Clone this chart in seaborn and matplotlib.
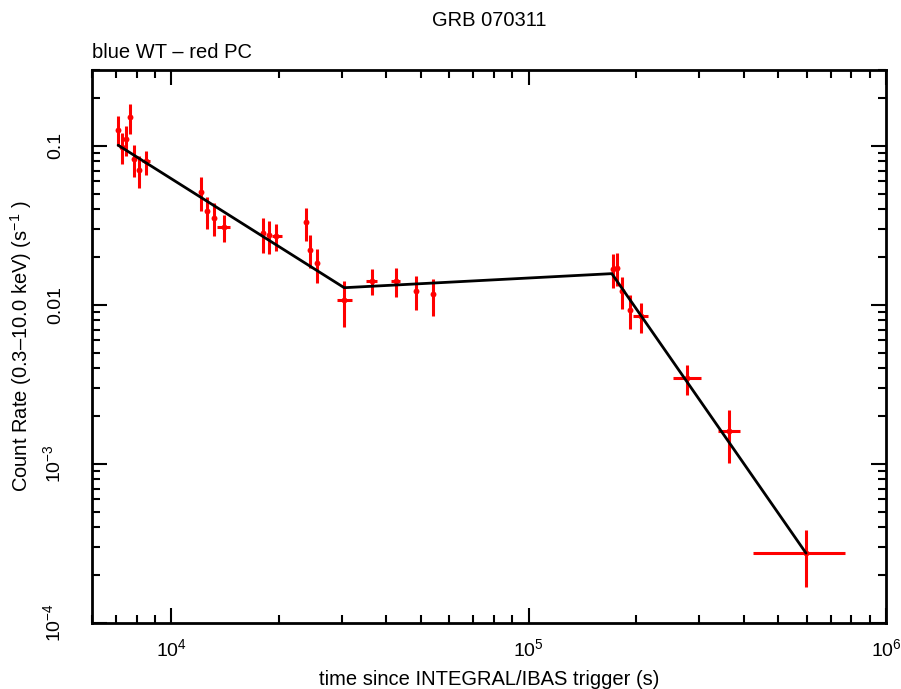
import matplotlib
matplotlib.use("Agg")
import matplotlib.pyplot as plt
import matplotlib.ticker as mticker
import numpy as np
import seaborn as sns

# ---- data ----
time_s = [7100, 7290, 7470, 7650, 7840, 8120, 8510,
          12130, 12585, 13165, 14007, 18000, 18720, 19670, 23750, 24480, 25560,
          30470, 36420, 42420, 48450, 54160,
          171980, 177110, 182970, 192250, 206380, 277000, 364500, 597300]
time_lo = [7000, 7190, 7370, 7550, 7740, 8020, 8280,
           11980, 12430, 13000, 13420, 17800, 18520, 19130, 23500, 24230, 25300,
           29070, 35120, 41260, 47950, 53600,
           170500, 175600, 181200, 190300, 196400, 253200, 339600, 425500]
time_hi = [7200, 7390, 7570, 7750, 7940, 8220, 8740,
           12280, 12740, 13330, 14560, 18200, 18920, 20400, 24000, 24730, 25820,
           32030, 37760, 43710, 48950, 54720,
           173400, 178600, 184700, 194200, 216300, 303200, 390500, 767900]
rate = [0.126, 0.098, 0.110, 0.151, 0.083, 0.071, 0.080,
        0.0513, 0.0390, 0.0354, 0.0311, 0.0282, 0.0275, 0.0271, 0.0332, 0.0221, 0.0183,
        0.01072, 0.0141, 0.0141, 0.01222, 0.01164,
        0.01673, 0.01698, 0.01222, 0.00928, 0.0085, 0.00348, 0.001604, 0.000275]
rate_lo = [0.100, 0.077, 0.087, 0.119, 0.064, 0.054, 0.066,
           0.0390, 0.0299, 0.0271, 0.0249, 0.0213, 0.0210, 0.0218, 0.0252, 0.0170, 0.0138,
           0.00729, 0.01153, 0.01120, 0.00924, 0.0085,
           0.01283, 0.01313, 0.00937, 0.00701, 0.00668, 0.00273, 0.001015, 0.0001695]
rate_hi = [0.155, 0.121, 0.134, 0.183, 0.101, 0.087, 0.093,
           0.0633, 0.0480, 0.0436, 0.0366, 0.0354, 0.0337, 0.0321, 0.0409, 0.0275, 0.0224,
           0.0141, 0.0169, 0.01715, 0.0152, 0.01462,
           0.0208, 0.0211, 0.01505, 0.01147, 0.01022, 0.00422, 0.002197, 0.000386]

model_t = [7100, 30470, 170900, 597300]
model_r = [0.101, 0.01283, 0.01573, 0.000275]

y_ticks = [1e-4, 1e-3, 1e-2, 1e-1]
y_ticklabels = ["10$^{-4}$", "10$^{-3}$", "0.01", "0.1"]
x_ticks = [1e4, 1e5, 1e6]
x_ticklabels = ["10$^{4}$", "10$^{5}$", "10$^{6}$"]

# ---- style ----
sns.set_style("ticks")
plt.rcParams["font.family"] = ["Liberation Sans", "DejaVu Sans"]
plt.rcParams["mathtext.fontset"] = "custom"
plt.rcParams["mathtext.rm"] = "Liberation Sans"
plt.rcParams["mathtext.it"] = "Liberation Sans:italic"
plt.rcParams["mathtext.bf"] = "Liberation Sans:bold"
plt.rcParams["mathtext.default"] = "regular"
plt.rcParams["text.color"] = "black"
plt.rcParams["axes.labelcolor"] = "black"
plt.rcParams["xtick.color"] = "black"
plt.rcParams["ytick.color"] = "black"

FS = 14.5

fig = plt.figure(figsize=(9.01, 6.89), dpi=100)
ax = fig.add_axes([92/901, 1 - 623/689, (886-92)/901, (623-70)/689])

t = np.array(time_s); r = np.array(rate)
xerr = [t - np.array(time_lo), np.array(time_hi) - t]
yerr = [r - np.array(rate_lo), np.array(rate_hi) - r]
ax.errorbar(t, r, xerr=xerr, yerr=yerr, fmt="none", ecolor="red",
            elinewidth=2.2, capsize=0, zorder=2)
sns.scatterplot(x=time_s, y=rate, ax=ax, color="red", s=18, linewidth=0, zorder=3)
sns.lineplot(x=model_t, y=model_r, ax=ax, color="black", linewidth=2,
             estimator=None, sort=False, zorder=4)

ax.set_xscale("log"); ax.set_yscale("log")
ax.set_xlim(6000, 1e6)
ax.set_ylim(1e-4, 0.3)

ax.yaxis.set_major_locator(mticker.FixedLocator(y_ticks))
ax.yaxis.set_major_formatter(mticker.FixedFormatter(y_ticklabels))
ax.yaxis.set_minor_locator(mticker.LogLocator(base=10, subs=np.arange(2, 10)))
ax.yaxis.set_minor_formatter(mticker.NullFormatter())
ax.xaxis.set_major_locator(mticker.FixedLocator(x_ticks))
ax.xaxis.set_major_formatter(mticker.FixedFormatter(x_ticklabels))
ax.xaxis.set_minor_locator(mticker.LogLocator(base=10, subs=np.arange(2, 10)))
ax.xaxis.set_minor_formatter(mticker.NullFormatter())

ax.tick_params(which="both", direction="in", top=True, right=True,
               width=1.5, colors="black", labelsize=14)
ax.tick_params(which="major", length=11)
ax.tick_params(which="minor", length=6)
ax.tick_params(axis="x", which="major", pad=11)
ax.tick_params(axis="y", which="major", pad=20)
for lab in ax.get_yticklabels():
    lab.set_rotation(90)
    lab.set_va("center")
for sp in ax.spines.values():
    sp.set_linewidth(2)
    sp.set_color("black")

ax.set_xlabel("time since INTEGRAL/IBAS trigger (s)", fontsize=FS, labelpad=7, color="black")
ax.set_ylabel("Count Rate (0.3\u201310.0 keV) (s$^{-1}$ )", fontsize=FS, labelpad=6, color="black")

fig.text(0.543, 1 - 20/689, "GRB 070311", ha="center", va="center", fontsize=FS, color="black")
fig.text(92/901, 1 - 52/689, "blue WT \u2013 red PC", ha="left", va="center", fontsize=FS, color="black")

fig.savefig("out.png", dpi=100)
